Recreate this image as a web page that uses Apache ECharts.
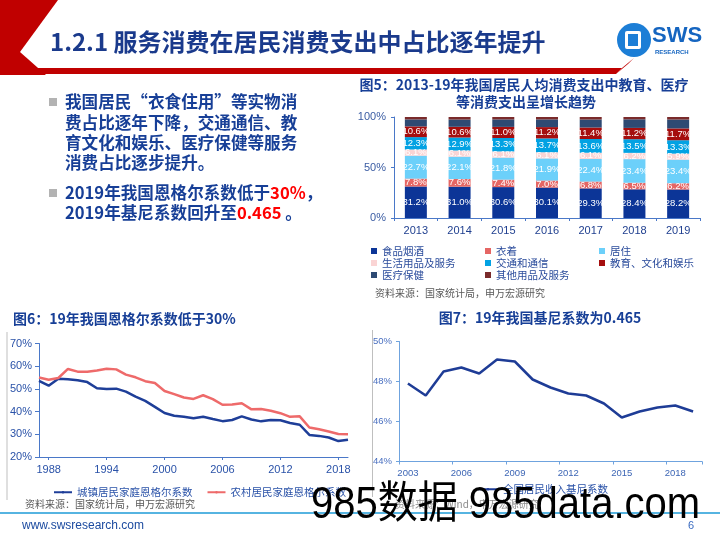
<!DOCTYPE html>
<html><head><meta charset="utf-8">
<script src="https://cdn.jsdelivr.net/npm/echarts@6/dist/echarts.min.js"></script>
<style>html,body{margin:0;padding:0;background:#fff}#c{width:720px;height:540px}</style>
</head><body><div id="c"></div>
<script>
// ---- Figure 5 data (share of per-capita consumption, %)
const years5 = ['2013','2014','2015','2016','2017','2018','2019'];
const foodTobacco = [31.2, 31.0, 30.6, 30.1, 29.3, 28.4, 28.2];
const clothing    = [7.8, 7.6, 7.4, 7.0, 6.8, 6.5, 6.2];
const housing     = [22.7, 22.1, 21.8, 21.9, 22.4, 23.4, 23.4];
const household   = [6.1, 6.1, 6.1, 6.1, 6.1, 6.2, 5.9];
const transport   = [12.3, 12.9, 13.3, 13.7, 13.6, 13.5, 13.3];
const education   = [10.6, 10.6, 11.0, 11.2, 11.4, 11.2, 11.7];
const medical     = [6.9, 7.2, 7.4, 7.6, 7.9, 8.5, 8.8];
const others      = [2.4, 2.5, 2.4, 2.4, 2.5, 2.3, 2.5];
const names5 = ['食品烟酒','衣着','居住','生活用品及服务','交通和通信','教育、文化和娱乐','医疗保健','其他用品及服务'];

// ---- Figure 6 data (Engel coefficient, %)
const engelYears = ['1987','1988','1989','1990','1991','1992','1993','1994','1995','1996','1997','1998','1999','2000','2001','2002','2003','2004','2005','2006','2007','2008','2009','2010','2011','2012','2013','2014','2015','2016','2017','2018','2019'];
const urbanEngel = [53.5,51.4,54.5,54.2,53.8,53.0,50.3,50.0,50.1,48.8,46.6,44.7,42.1,39.4,38.2,37.7,37.1,37.7,36.7,35.8,36.3,37.9,36.5,35.7,36.3,36.2,35.0,34.2,29.7,29.3,28.6,27.0,27.6];
const ruralEngel = [55.0,54.0,54.8,58.8,57.6,57.6,58.1,58.9,58.6,56.3,55.1,53.4,52.6,49.1,47.7,46.2,45.6,47.2,45.5,43.0,43.1,43.7,41.0,41.1,40.4,39.3,37.7,37.9,33.0,32.2,31.2,30.1,30.0];

// ---- Figure 7 data (Gini coefficient, %)
const giniYears = ['2003','2004','2005','2006','2007','2008','2009','2010','2011','2012','2013','2014','2015','2016','2017','2018','2019'];
const gini = [47.9,47.3,48.5,48.7,48.4,49.1,49.0,48.1,47.7,47.4,47.3,46.9,46.2,46.5,46.7,46.8,46.5];

const F = '"Liberation Sans","Noto Sans CJK SC",sans-serif';
const CJK = '"Noto Sans CJK SC","Liberation Sans",sans-serif';
const NAVY = '#173F97';

const chart = echarts.init(document.getElementById('c'), null, {renderer:'canvas'});

const colors5 = ['#0C3597','#E56664','#6CD0FA','#FAD4D4','#02A2E3','#A50E0E','#2E4A73','#7A2B2B'];
const data5 = [foodTobacco, clothing, housing, household, transport, education, medical, others];
const barSeries = data5.map((d,i)=>({
  name: names5[i], type:'bar', stack:'s', xAxisIndex:0, yAxisIndex:0,
  data: d, barWidth: 22, itemStyle:{color: colors5[i]},
  label:{show: i<6, position:'inside', color:'#fff', fontSize:9.5, fontFamily:F,
    formatter:(p)=>Number(p.value).toFixed(1)+'%'}
}));

const legend5Base = {icon:'rect', itemWidth:6, itemHeight:6, itemGap:0, orient:'vertical', padding:0,
  textStyle:{fontSize:10.5, lineHeight:12, height:12, color:'#2A4B9B', fontFamily:CJK}, selectedMode:false};

const option = {
  animation:false,
  color: colors5,
  grid:[
    {left:394, right:20, top:117, bottom:322},
    {left:39, right:372, top:343.5, bottom:83},
    {left:399, right:18, top:341.5, bottom:78.5}
  ],
  xAxis:[
    {gridIndex:0, type:'category', data:years5,
      axisLine:{lineStyle:{color:'#4A78C8'}}, axisTick:{show:true, length:3, lineStyle:{color:'#4A78C8'}},
      axisLabel:{color:'#1F3F8F', fontSize:11, fontFamily:F, margin:7}},
    {gridIndex:1, type:'category', data:engelYears, boundaryGap:false,
      axisLine:{lineStyle:{color:'#4A78C8'}},
      axisTick:{show:true, length:3, interval:(i)=>(i-1)%6===0, lineStyle:{color:'#4A78C8'}},
      axisLabel:{color:'#2A52A8', fontSize:11, fontFamily:F, margin:7, interval:(i)=>(i-1)%6===0}},
    {gridIndex:2, type:'category', data:giniYears, boundaryGap:true,
      axisLine:{lineStyle:{color:'#6FA3DE'}},
      axisTick:{show:true, length:3, interval:2, lineStyle:{color:'#6FA3DE'}},
      axisLabel:{color:'#3D66B5', fontSize:9.5, fontFamily:F, margin:7, interval:2}}
  ],
  yAxis:[
    {gridIndex:0, type:'value', min:0, max:100, interval:50,
      axisLine:{show:true, lineStyle:{color:'#4A78C8'}}, axisTick:{show:true, length:3, lineStyle:{color:'#4A78C8'}},
      splitLine:{show:false}, axisLabel:{color:'#3A5CA3', fontSize:11, fontFamily:F, formatter:'{value}%', margin:8}},
    {gridIndex:1, type:'value', min:20, max:70, interval:10,
      axisLine:{show:true, lineStyle:{color:'#4A78C8'}}, axisTick:{show:true, length:4, lineStyle:{color:'#4A78C8'}},
      splitLine:{show:false}, axisLabel:{color:'#2A52A8', fontSize:11, fontFamily:F, formatter:'{value}%', margin:7}},
    {gridIndex:2, type:'value', min:44, max:50, interval:2,
      axisLine:{show:true, lineStyle:{color:'#6FA3DE'}}, axisTick:{show:true, length:3, lineStyle:{color:'#6FA3DE'}},
      splitLine:{show:false}, axisLabel:{color:'#4A70C0', fontSize:9.5, fontFamily:F, formatter:'{value}%', margin:7}}
  ],
  legend:[
    Object.assign({}, legend5Base, {left:371, top:245, data:[names5[0],names5[3],names5[6]]}),
    Object.assign({}, legend5Base, {left:485, top:245, data:[names5[1],names5[4],names5[7]]}),
    Object.assign({}, legend5Base, {left:599, top:245, data:[names5[2],names5[5]]}),
    {left:48, top:482, itemWidth:18, itemHeight:3, itemGap:14, selectedMode:false,
      textStyle:{fontSize:10.5, color:'#2A52A8', fontFamily:CJK}, data:['城镇居民家庭恩格尔系数','农村居民家庭恩格尔系数']},
    {left:472, top:479, itemWidth:20, itemHeight:3, itemGap:10, selectedMode:false,
      textStyle:{fontSize:10.5, color:'#2A52A8', fontFamily:CJK}, data:['全国居民收入基尼系数']}
  ],
  series: barSeries.concat([
    {name:'城镇居民家庭恩格尔系数', type:'line', xAxisIndex:1, yAxisIndex:1, data:urbanEngel, symbol:'none',
      lineStyle:{color:'#1E3E98', width:2.5}, itemStyle:{color:'#1E3E98'}},
    {name:'农村居民家庭恩格尔系数', type:'line', xAxisIndex:1, yAxisIndex:1, data:ruralEngel, symbol:'none',
      lineStyle:{color:'#EE6A6A', width:2.5}, itemStyle:{color:'#EE6A6A'}},
    {name:'全国居民收入基尼系数', type:'line', xAxisIndex:2, yAxisIndex:2, data:gini, symbol:'none',
      lineStyle:{color:'#1E3C96', width:2.5}, itemStyle:{color:'#1E3C96'}}
  ]),
  graphic:[
    // header decoration
    {type:'polygon', shape:{points:[[0,0],[58,0],[20,52],[0,52]]}, style:{fill:'#C00000'}},
    {type:'polygon', shape:{points:[[20,52],[0,52],[0,75],[40,75],[46,75]]}, style:{fill:'#C00000'}},
    {type:'polygon', shape:{points:[[36,68],[622,68],[616,74],[40,74]]}, style:{fill:'#C00000'}},
    {type:'polygon', shape:{points:[[616,74],[622,68],[634,58],[628,64]]}, style:{fill:'#C00000'}},
    {type:'text', x:50, y:42, style:{text:'1.2.1 服务消费在居民消费支出中占比逐年提升', font:'bold 24px '+CJK, fill:'#1A3A8C', textVerticalAlign:'middle'}},
    // logo
    {type:'circle', shape:{cx:634, cy:40, r:17}, style:{fill:'#1C7ED6'}},
    {type:'rect', shape:{x:625, y:31, width:16, height:18, r:2}, style:{fill:'#fff'}},
    {type:'rect', shape:{x:628, y:34, width:10, height:12}, style:{fill:'#1C7ED6'}},
    {type:'text', x:652, y:36, style:{text:'SWS', font:'bold 22px '+F, fill:'#1565C0', textVerticalAlign:'middle'}},
    {type:'text', x:655, y:52, style:{text:'RESEARCH', font:'bold 6px '+F, fill:'#1565C0', textVerticalAlign:'middle'}},
    // bullets
    {type:'rect', shape:{x:49, y:98, width:8, height:8}, style:{fill:'#B3B3B3'}},
    {type:'rect', shape:{x:49, y:189, width:8, height:8}, style:{fill:'#B3B3B3'}},
    {type:'text', x:65, y:102, style:{text:'我国居民“衣食住用”等实物消', font:'bold 16.6px '+CJK, fill:NAVY, textVerticalAlign:'middle'}},
    {type:'text', x:65, y:123, style:{text:'费占比逐年下降，交通通信、教', font:'bold 16.6px '+CJK, fill:NAVY, textVerticalAlign:'middle'}},
    {type:'text', x:65, y:143, style:{text:'育文化和娱乐、医疗保健等服务', font:'bold 16.6px '+CJK, fill:NAVY, textVerticalAlign:'middle'}},
    {type:'text', x:65, y:163, style:{text:'消费占比逐步提升。', font:'bold 16.6px '+CJK, fill:NAVY, textVerticalAlign:'middle'}},
    {type:'text', x:65, y:193, style:{rich:{a:{font:'bold 16.6px '+CJK, fill:NAVY},b:{font:'bold 16.6px '+CJK, fill:'#FF0000'}},
      text:'{a|2019年我国恩格尔系数低于}{b|30%}{a|，}', textVerticalAlign:'middle'}},
    {type:'text', x:65, y:213, style:{rich:{a:{font:'bold 16.6px '+CJK, fill:NAVY},b:{font:'bold 16.6px '+CJK, fill:'#FF0000'}},
      text:'{a|2019年基尼系数回升至}{b|0.465}{a| 。}', textVerticalAlign:'middle'}},
    // chart titles
    {type:'text', x:524, y:85, style:{text:'图5：2013-19年我国居民人均消费支出中教育、医疗', font:'bold 14px '+CJK, fill:NAVY, textAlign:'center', textVerticalAlign:'middle'}},
    {type:'text', x:526, y:102, style:{text:'等消费支出呈增长趋势', font:'bold 14px '+CJK, fill:NAVY, textAlign:'center', textVerticalAlign:'middle'}},
    {type:'text', x:13, y:319, style:{text:'图6：19年我国恩格尔系数低于30%', font:'bold 14px '+CJK, fill:NAVY, textVerticalAlign:'middle'}},
    {type:'text', x:540, y:318, style:{text:'图7：19年我国基尼系数为0.465', font:'bold 14px '+CJK, fill:NAVY, textAlign:'center', textVerticalAlign:'middle'}},
    // sources
    {type:'text', x:375, y:293, style:{text:'资料来源：国家统计局，申万宏源研究', font:'10px '+CJK, fill:'#595959', textVerticalAlign:'middle'}},
    {type:'text', x:25, y:504, style:{text:'资料来源：国家统计局，申万宏源研究', font:'10px '+CJK, fill:'#595959', textVerticalAlign:'middle'}},
    {type:'text', x:395, y:504, style:{text:'资料来源：Wind，申万宏源研究', font:'10px '+CJK, fill:'#8C8C8C', textVerticalAlign:'middle'}},
    // frame lines
    {type:'line', shape:{x1:7, y1:332, x2:7, y2:500}, style:{stroke:'#BFBFBF', lineWidth:1}},
    {type:'line', shape:{x1:372.5, y1:330, x2:372.5, y2:497}, style:{stroke:'#BFBFBF', lineWidth:1}},
    // footer
    {type:'line', shape:{x1:0, y1:513, x2:720, y2:513}, style:{stroke:'#1E9BD7', lineWidth:1.5}},
    {type:'text', x:22, y:526, style:{text:'www.swsresearch.com', font:'12px '+F, fill:'#1C4BA0', textVerticalAlign:'middle'}},
    {type:'text', x:688, y:526, style:{text:'6', font:'11px '+F, fill:'#3A6BC0', textVerticalAlign:'middle'}},
    // watermark
    {type:'text', x:311, y:528, z:100, scaleY:1.1, originX:0, originY:0,
      style:{text:'985数据 985data.com', font:'40px '+F, fill:'#000', textVerticalAlign:'bottom'}}
  ]
};
chart.setOption(option);
</script>
</body></html>
